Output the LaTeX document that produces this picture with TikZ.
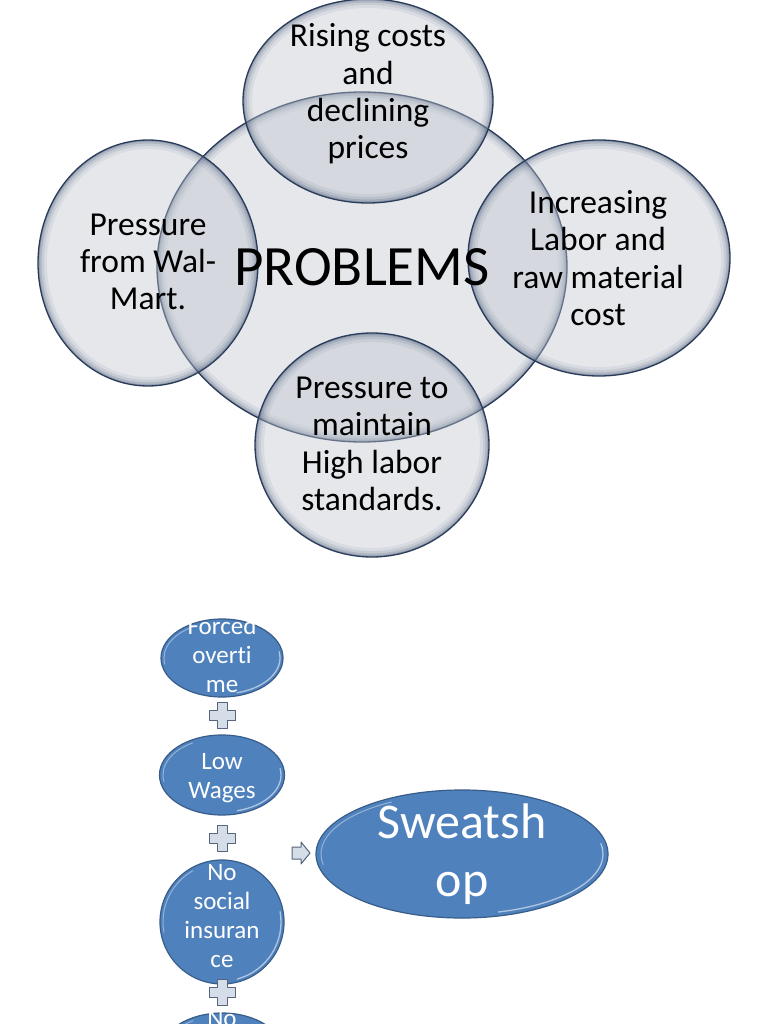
\documentclass[tikz,border=0pt]{standalone}
\usepackage{fontspec}
\setmainfont{Carlito}[Ligatures=NoCommon]
\usetikzlibrary{shapes.geometric}
\definecolor{vennfill}{HTML}{BFC5CF}
\definecolor{vennedge}{HTML}{2A3C5A}
\definecolor{vennglow}{HTML}{34496B}
\definecolor{blobblue}{HTML}{4F81BD}
\definecolor{blobedge}{HTML}{385D8A}
\definecolor{plusfill}{HTML}{D5DDE9}
\definecolor{plusedge}{HTML}{56657C}
\tikzset{
 vennbody/.style={ellipse, inner sep=0pt, fill=vennfill, fill opacity=0.4},
 blob/.style={ellipse, inner sep=0pt, fill=blobblue, draw=blobedge, line width=1.2pt},
 venntext/.style={align=center, font=\fontsize{33.5}{37.3}\selectfont, text=black, inner sep=0pt},
 blobtext/.style={align=center, font=\fontsize{25}{29}\selectfont, text=white, inner sep=0pt},
 plusst/.style={fill=plusfill, draw=plusedge, line width=1pt, line join=round},
 plussign/.pic={\path[plusst] (-5,-13) -- (5,-13) -- (5,-5) -- (13,-5) -- (13,5) -- (5,5) -- (5,13) -- (-5,13) -- (-5,5) -- (-13,5) -- (-13,-5) -- (-5,-5) -- cycle;},
 rightarrowpic/.pic={\path[plusst] (-9,-6) -- (0,-6) -- (0,-11) -- (9,0) -- (0,11) -- (0,6) -- (-9,6) -- cycle;}
}
\newcommand\vennbubble[5]{%
 \node[vennbody, minimum width={2*#4pt}, minimum height={2*#5pt}] (#1) at (#2,#3) {};
 \begin{scope}
 \clip (#2,#3) ellipse [x radius=#4pt, y radius=#5pt];
 \foreach \w/\o in {18/0.07,12/0.1,7/0.16,3/0.25}{\draw[vennglow, line width=\w pt, draw opacity=\o] (#2,#3) ellipse [x radius=#4pt, y radius=#5pt];}
 \end{scope}
 \draw[vennedge, line width=1.3pt] (#2,#3) ellipse [x radius=#4pt, y radius=#5pt];
}
\newcommand\blobgloss[3]{%
 \draw[white, line width=1.3pt, opacity=0.55, line cap=round] ([shift={(-75:#2pt and #3pt)}]#1.center) arc[start angle=-75, end angle=10, x radius=#2pt, y radius=#3pt];
 \draw[white, line width=1pt, opacity=0.4, line cap=round] ([shift={(120:#2pt and #3pt)}]#1.center) arc[start angle=120, end angle=190, x radius=#2pt, y radius=#3pt];
}
\begin{document}
\begin{tikzpicture}[x=1pt,y=-1pt]
\useasboundingbox (0,0) rectangle (768,1024);
\clip (0,0) rectangle (768,1024);
\fill[white] (0,0) rectangle (768,1024);
\vennbubble{center}{362}{267}{205}{175}
\vennbubble{top}{368}{101}{125}{102}
\vennbubble{left}{148}{263}{110}{123}
\vennbubble{right}{599}{258}{131}{118}
\vennbubble{bottom}{372}{445}{117}{112}
\node[venntext] (toptext) at (368,94) {Rising costs\\and\\declining\\prices};
\node[venntext] (lefttext) at (148,262) {Pressure\\from Wal-\\Mart.};
\node[venntext] (righttext) at (598,258) {Increasing\\Labor and\\raw material\\cost};
\node[venntext] (bottomtext) at (372,444) {Pressure to\\maintain\\High labor\\standards.};
\node[font=\fontsize{57}{60}\selectfont, inner sep=0pt] (problems) at (362,267) {PROBLEMS};
\node[blob, minimum width=122pt, minimum height=78pt] (forced) at (222,658) {};
\node[blob, minimum width=125pt, minimum height=80pt] (wages) at (222,775) {};
\node[blob, minimum width=124pt, minimum height=124pt] (social) at (222,922) {};
\node[blob, minimum width=122pt, minimum height=78pt] (fourth) at (222,1052) {};
\node[blob, minimum width=292pt, minimum height=128pt] (sweat) at (462,854) {};
\blobgloss{forced}{58}{36}
\blobgloss{wages}{59}{37}
\blobgloss{social}{59}{59}
\blobgloss{fourth}{58}{36}
\blobgloss{sweat}{141}{60}
\node[blobtext] (forcedtext) at (222,655) {Forced\\overti\\me};
\node[blobtext] (wagestext) at (222,778) {Low\\Wages};
\node[blobtext] (socialtext) at (222,916) {No\\social\\insuran\\ce};
\node[blobtext, anchor=north] (fourthtext) at (222,1010) {No};
\node[align=center, text=white, font=\fontsize{50}{58}\selectfont, inner sep=0pt] (sweattext) at (462,854) {Sweatsh\\op};
\pic at (222,715) {plussign};
\pic at (222,838) {plussign};
\pic at (222,992) {plussign};
\pic at (301,853) {rightarrowpic};
\end{tikzpicture}
\end{document}
